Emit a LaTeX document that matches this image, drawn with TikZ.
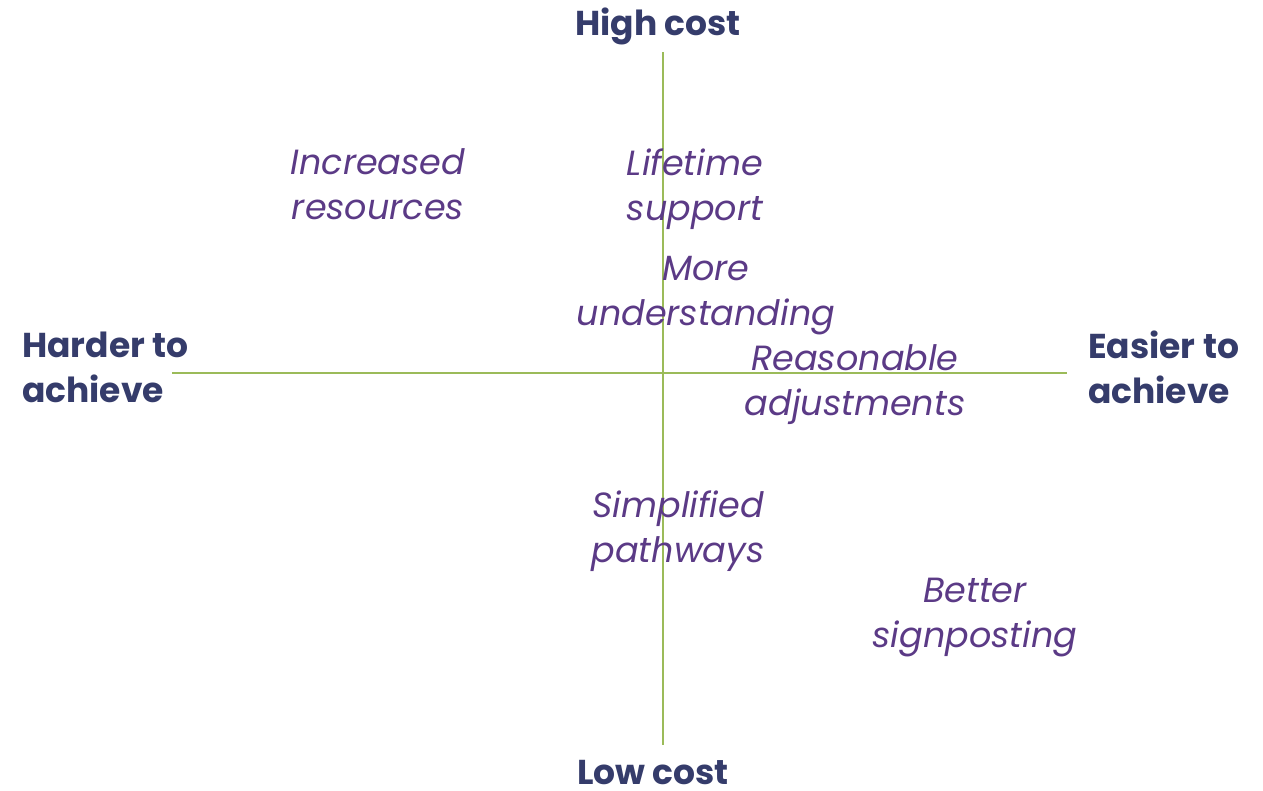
\documentclass[tikz,border=0pt]{standalone}
\usepackage{fontspec}
\setmainfont{Poppins}
\definecolor{axisgreen}{HTML}{9BBB59}
\definecolor{headnavy}{HTML}{353C6B}
\definecolor{itempurple}{HTML}{5B3A86}
\begin{document}
\begin{tikzpicture}[x=1pt,y=-1pt,
  axisline/.style={draw=axisgreen,line width=1.6pt},
  heading/.style={text=headnavy,font=\fontsize{34.5}{45}\selectfont\bfseries,inner sep=0pt,align=left,anchor=base},
  item/.style={text=itempurple,font=\fontsize{35}{45}\selectfont\itshape,inner sep=0pt,align=center,anchor=base}]
\useasboundingbox (0,0) rectangle (1263,790);
% axes
\coordinate (top) at (663,52);
\coordinate (bottom) at (663,745);
\coordinate (left) at (172,373);
\coordinate (right) at (1067,373);
\draw[axisline] (top) -- (bottom);
\draw[axisline] (left) -- (right);
% axis headings (two-line nodes are placed by the baseline of their last line)
\node[heading] (high) at (658,35) {High cost};
\node[heading] (low) at (653,784) {Low cost};
\node[heading,anchor=base west] (harder) at (22,402) {Harder to\\achieve};
\node[heading,anchor=base west] (easier) at (1088,403) {Easier to\\achieve};
% placed items
\node[item] (resources) at (378,219) {Increased\\resources};
\node[item] (lifetime) at (695,220) {Lifetime\\support};
\node[item] (understanding) at (706,325) {More\\understanding};
\node[item] (adjustments) at (855,415) {Reasonable\\adjustments};
\node[item] (pathways) at (678,562) {Simplified\\pathways};
\node[item] (signposting) at (975,647) {Better\\signposting};
\end{tikzpicture}
\end{document}
